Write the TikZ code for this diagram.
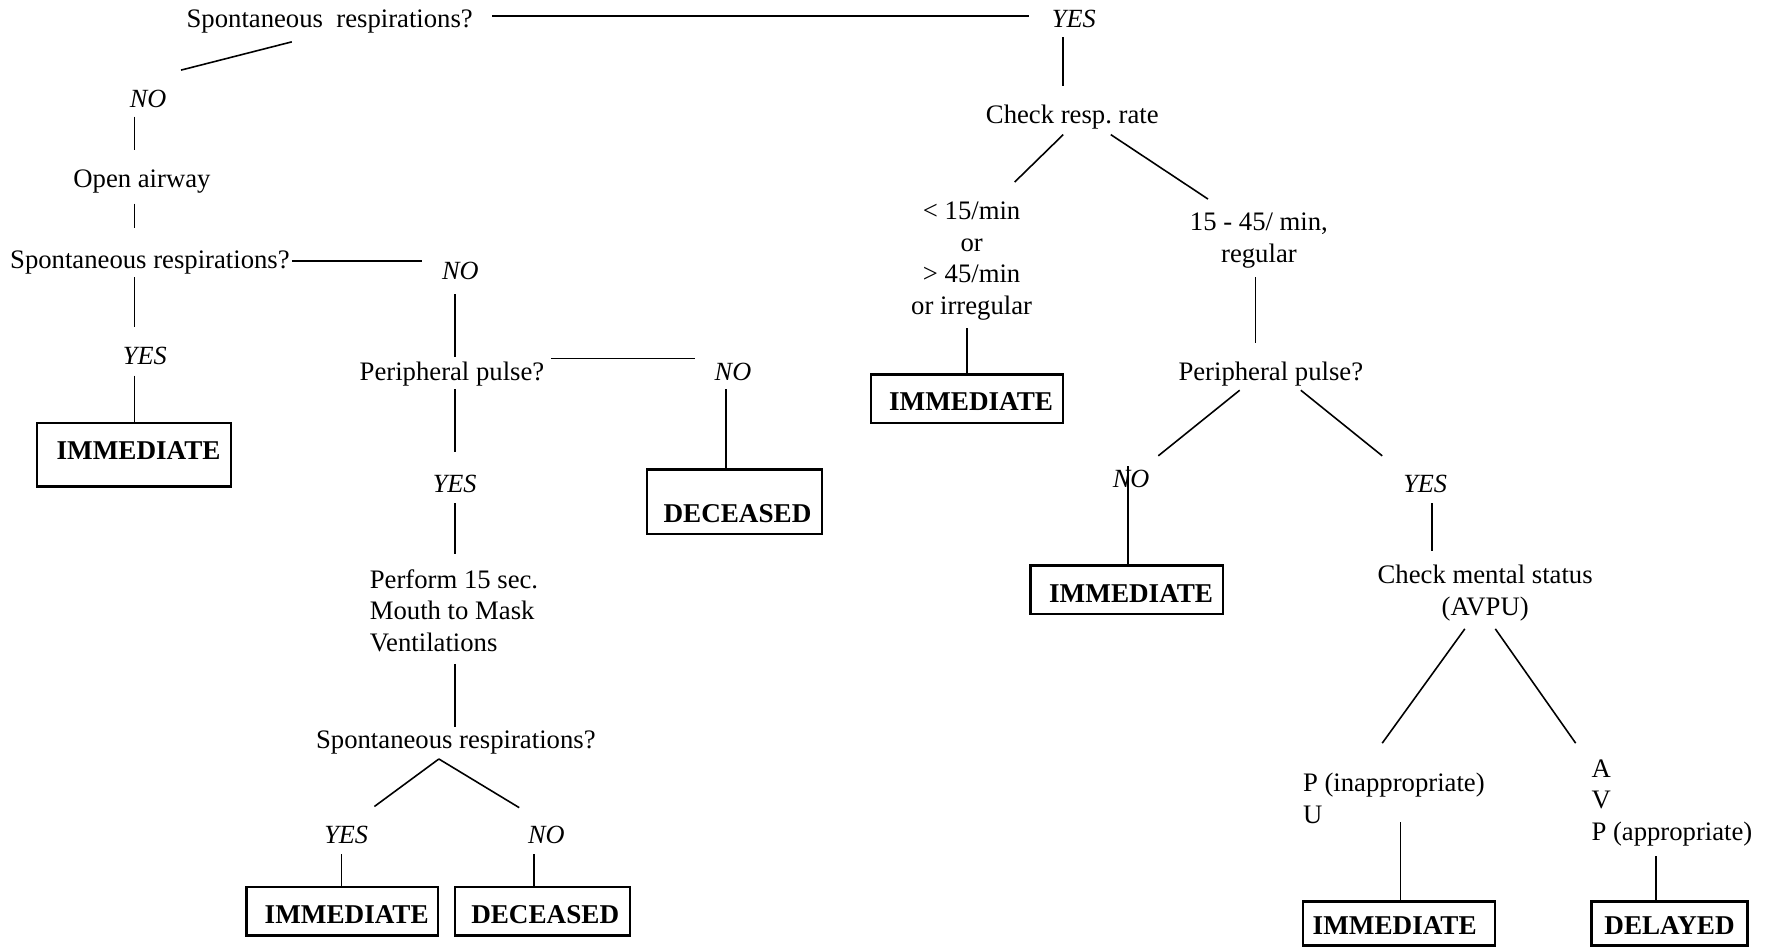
\documentclass[tikz,border=0pt]{standalone}
\usepackage{fontspec}
\setmainfont{Liberation Serif}
\usetikzlibrary{calc}
\newcommand\mlines[2]{\begin{tabular}[t]{@{}#1@{}}#2\end{tabular}}
\begin{document}
\frenchspacing
\begin{tikzpicture}[x=0.5pt,y=-0.5pt,
  every node/.style={inner sep=0pt, outer sep=0pt, font=\fontsize{11.8pt}{14pt}\selectfont},
  ans/.style={font=\fontsize{11.6pt}{14pt}\selectfont\itshape},
  box/.style={draw, line width=1pt, font=\fontsize{12pt}{14pt}\selectfont\bfseries, text depth=0pt},
  conn/.style={line width=0.7pt}]
\useasboundingbox (0,0) rectangle (1566.6,839.9);
% text nodes
\node[anchor=base west] (t1) at (165,24) {Spontaneous~~respirations?};
\node[ans, anchor=base west] (yes1) at (930,24) {YES};
\node[ans, anchor=base] (no1) at (131,95) {NO};
\node[anchor=base] (open) at (125.5,166) {Open airway};
\node[anchor=base west] (t2) at (9,237) {Spontaneous respirations?};
\node[ans, anchor=base] (no2) at (407,247) {NO};
\node[ans, anchor=base] (yes2) at (128,322) {YES};
\node[anchor=base west] (pp1) at (318,336) {Peripheral pulse?};
\node[ans, anchor=base] (no3) at (648,336) {NO};
\node[ans, anchor=base] (yes3) at (402,435) {YES};
\node[anchor=base west] (perf) at (327,520) {\mlines{l}{Perform 15 sec.\\Mouth to Mask\\Ventilations}};
\node[anchor=base] (t3) at (403,662) {Spontaneous respirations?};
\node[ans, anchor=base] (yes4) at (306,746) {YES};
\node[ans, anchor=base] (no4) at (483,746) {NO};
\node[anchor=base] (chk) at (948,109) {Check resp. rate};
\node[anchor=base] (lt) at (859,194) {\mlines{c}{< 15/min\\or\\> 45/min\\or irregular}};
\node[anchor=base] (reg) at (1113,204) {\mlines{c}{15 - 45/ min,\\regular}};
\node[anchor=base] (pp2) at (1123.5,336) {Peripheral pulse?};
\node[ans, anchor=base] (no5) at (1000,431) {NO};
\node[ans, anchor=base] (yes5) at (1260,435) {YES};
\node[anchor=base] (cms) at (1313,516) {\mlines{c}{Check mental status\\(AVPU)}};
\node[anchor=base west] (pinu) at (1152,700) {\mlines{l}{P (inappropriate)\\U}};
\node[anchor=base west] (avp) at (1407,687) {\mlines{l}{A\\V\\P (appropriate)}};
% boxes
\node[box, minimum width=85.5pt, minimum height=28pt, text height=4pt] (imm1) at (118.5,402) {\hspace*{4pt}IMMEDIATE};
\node[box, minimum width=77.5pt, minimum height=28.5pt, text height=18.5pt] (dec1) at (649.5,443.5) {\hspace*{2.5pt}DECEASED};
\node[box, minimum width=84.5pt, minimum height=21.5pt, text height=10.5pt] (imm2) at (302.5,805.5) {\hspace*{4pt}IMMEDIATE};
\node[box, minimum width=77.5pt, minimum height=21.5pt, text height=10.5pt] (dec2) at (479.5,805.5) {\hspace*{2.5pt}DECEASED};
\node[box, minimum width=85pt, minimum height=21.5pt, text height=10.5pt] (imm3) at (855,352.5) {\hspace*{3.5pt}IMMEDIATE};
\node[box, minimum width=85pt, minimum height=21.5pt, text height=11.5pt] (imm4) at (996,521.5) {\hspace*{4pt}IMMEDIATE};
\node[box, minimum width=85pt, minimum height=19.5pt, text height=9.5pt] (imm5) at (1237,816.5) {IMMEDIATE\hspace*{4pt}};
\node[box, minimum width=69pt, minimum height=19.5pt, text height=9.5pt] (del) at (1476,816.5) {DELAYED};
% connectors
\draw[conn] ($(t1.base west)+(270,-10)$) -- ($(yes1.base west)+(-20,-10)$);
\draw[conn] ($(t1.base west)+(93,13)$) -- ($(no1.base)+(29,-33)$);
\draw[conn] ($(no1.base)+(-12,8)$) -- ($(open.base)+(-6.5,-33)$);
\draw[conn] ($(open.base)+(-6.5,14)$) -- ($(t2.base west)+(110,-35)$);
\draw[conn] ($(t2.base west)+(249,-6)$) -- ($(no2.base)+(-34,-16)$);
\draw[conn] ($(t2.base west)+(110,8)$) -- ($(yes2.base)+(-9,-33)$);
\draw[conn] ($(yes2.base)+(-9,10)$) -- ($(imm1.north)+(0.5,0)$);
\draw[conn] ($(no2.base)+(-5,13)$) -- ($(pp1.base west)+(84,-20)$);
\draw[conn] ($(pp1.base west)+(169,-19)$) -- ($(no3.base)+(-34,-19)$);
\draw[conn] ($(no3.base)+(-6,8)$) -- ($(dec1.north)+(-7.5,0)$);
\draw[conn] ($(pp1.base west)+(84,8)$) -- ($(yes3.base)+(0,-35)$);
\draw[conn] ($(yes3.base)+(0,10)$) -- ($(perf.base west)+(75,-30)$);
\draw[conn] ($(perf.base west)+(75,67)$) -- ($(t3.base)+(-1,-19)$);
\draw[conn] ($(t3.base)+(-15,9)$) -- ($(yes4.base)+(25,-33)$);
\draw[conn] ($(t3.base)+(-15,9)$) -- ($(no4.base)+(-24,-32)$);
\draw[conn] ($(yes4.base)+(-4,9)$) -- ($(imm2.north)+(-0.5,0)$);
\draw[conn] ($(no4.base)+(-11,9)$) -- ($(dec2.north)+(-7.5,0)$);
\draw[conn] ($(yes1.base west)+(10,9)$) -- ($(chk.base)+(-8,-33)$);
\draw[conn] ($(chk.base)+(-8,10)$) -- ($(lt.base)+(38,-33)$);
\draw[conn] ($(chk.base)+(34,10)$) -- ($(reg.base)+(-45,-28)$);
\draw[conn] ($(lt.base)+(-4,96)$) -- (imm3.north);
\draw[conn] ($(reg.base)+(-3,41)$) -- ($(pp2.base)+(-13.5,-33)$);
\draw[conn] ($(pp2.base)+(-27.5,9)$) -- ($(no5.base)+(24,-28)$);
\draw[conn] ($(pp2.base)+(26.5,9)$) -- ($(yes5.base)+(-38,-32)$);
\draw[conn] ($(no5.base)+(-3,-19)$) -- ($(imm4.north)+(1,0)$);
\draw[conn] ($(yes5.base)+(6,10)$) -- ($(cms.base)+(-47,-29)$);
\draw[conn] ($(cms.base)+(-18,40)$) -- ($(pinu.base west)+(70,-43)$);
\draw[conn] ($(cms.base)+(9,40)$) -- ($(avp.base west)+(-14,-30)$);
\draw[conn] ($(pinu.base west)+(86,27)$) -- ($(imm5.north)+(1,0)$);
\draw[conn] ($(avp.base west)+(57,70)$) -- ($(del.north)+(-12,0)$);
\end{tikzpicture}
\end{document}
